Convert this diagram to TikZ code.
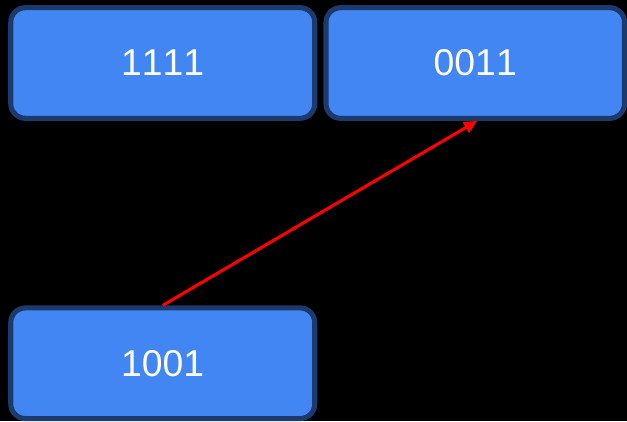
\documentclass[tikz,border=0pt]{standalone}
\usepackage{fontspec}
\setmainfont[Kerning=Off]{Liberation Sans}
\usetikzlibrary{arrows.meta}
\definecolor{boxfill}{HTML}{4286F4}
\definecolor{boxline}{HTML}{1D3A6C}
\definecolor{arrowred}{HTML}{FF0000}
\begin{document}
\begin{tikzpicture}[x=0.75pt,y=-0.75pt,
  bitbox/.style={draw=boxline,fill=boxfill,line width=3.8pt,rounded corners=11pt,
    minimum width=228pt,minimum height=83pt,text=white,font=\fontsize{28}{32}\selectfont,inner sep=0pt},
  link/.style={draw=arrowred,line width=2.3pt,-{Triangle[length=10pt,width=9pt]}}]
\fill[black] (0,0) rectangle (627,421);
\useasboundingbox (0,0) rectangle (627,421);
\node[bitbox] (a) at (162.75,63) {1111};
\node[bitbox,minimum width=223.9pt] (b) at (475.25,63) {0011};
\node[bitbox] (c) at (162.75,363.25) {1001};
\coordinate (bend) at ([xshift=1.5pt]b.south);
\draw[link] (c.north) -- (bend);
\end{tikzpicture}
\end{document}
